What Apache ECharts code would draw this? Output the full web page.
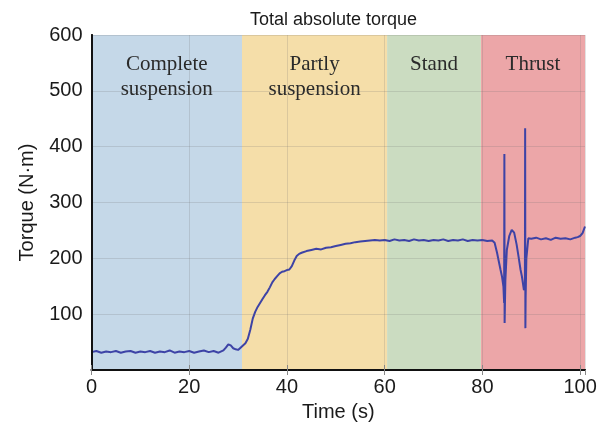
<!DOCTYPE html>
<html>
<head>
<meta charset="utf-8">
<script src="https://cdn.jsdelivr.net/npm/echarts@6/dist/echarts.min.js"></script>
<style>
  html, body { margin: 0; padding: 0; background: #fff; }
  #chart { width: 611px; height: 427px; }
</style>
</head>
<body>
<div id="chart"></div>
<script>
// phases of the test (s)
var phaseNames = ['Complete\nsuspension', 'Partly\nsuspension', 'Stand', 'Thrust']
var phaseStart = [0, 30.8, 60.5, 79.7]
var phaseEnd = [30.8, 60.5, 79.7, 101]
var phaseColors = ['#c5d8e8', '#f5dea9', '#cbdcc1', '#eca6a8']

var xTicks = [0, 20, 40, 60, 80, 100]
var yTicks = [100, 200, 300, 400, 500, 600]

// [time (s), torque (N·m)]
var torque = [
  [0, 32], [1, 34], [2, 31], [3, 33], [4, 32], [5, 34], [6, 31], [7, 33], [8, 34], [9, 31],
  [10, 33], [11, 32], [12, 34], [13, 31], [14, 33], [15, 32], [16, 35], [17, 31], [18, 33], [19, 32],
  [20, 34], [21, 31], [22, 33], [23, 35], [24, 32], [25, 34], [26, 31], [27, 35],
  [27.5, 40], [28, 46], [28.5, 44], [29, 39], [29.5, 37], [30, 36], [30.5, 40], [31, 44], [31.5, 48],
  [32, 56], [32.5, 72], [33, 92], [33.5, 104], [34, 113], [34.5, 120], [35, 127], [35.5, 134],
  [36, 140], [36.5, 148], [37, 157], [37.5, 163], [38, 168], [38.5, 173], [39, 176], [39.5, 177],
  [40, 179], [40.5, 180], [41, 186], [41.5, 196], [42, 204], [42.5, 208], [43, 210], [44, 213],
  [45, 215], [46, 217], [47, 216], [48, 219], [49, 220], [50, 222], [51, 224], [52, 226], [53, 227],
  [54, 229], [55, 230], [56, 231], [57, 232], [58, 233], [59, 232],
  [60, 233], [61, 231], [62, 234], [63, 232], [64, 233], [65, 231], [66, 234], [67, 232], [68, 233],
  [69, 231], [70, 233], [71, 232], [72, 234], [73, 231], [74, 233], [75, 232], [76, 234], [77, 231],
  [78, 233], [79, 232], [80, 233], [81, 231], [82, 232],
  [82.5, 228], [83, 210], [83.3, 197], [83.7, 180], [84, 168], [84.3, 150], [84.45, 120],
  [84.5, 387], [84.55, 84], [84.6, 110], [84.7, 160], [85, 215], [85.5, 240], [86, 251],
  [86.5, 246], [87, 225], [87.4, 203], [87.8, 180], [88.1, 167], [88.5, 143], [88.7, 150],
  [88.75, 433], [88.8, 75], [88.85, 130], [89, 200], [89.4, 236], [89.8, 239],
  [90, 235], [91, 237], [92, 234], [93, 236], [94, 233], [95, 237], [96, 235], [97, 236],
  [98, 234], [99, 237], [99.5, 238], [100, 240], [100.5, 245], [101, 257]
]

var chart = echarts.init(document.getElementById('chart'))

var areas = []
for (var i = 0; i < phaseNames.length; i++) {
  areas.push([
    { name: phaseNames[i], xAxis: phaseStart[i], itemStyle: { color: phaseColors[i], opacity: 1 } },
    { xAxis: phaseEnd[i] }
  ])
}

var axisLine = { show: true, lineStyle: { color: '#111', width: 1.8 } }
var gridLine = { show: true, lineStyle: { color: 'rgba(110,110,110,0.2)', width: 1 } }
var font = 'Liberation Sans, Arial, sans-serif'

var option = {
  animation: false,
  title: {
    text: 'Total absolute torque',
    left: 245,
    top: 6,
    textStyle: { fontFamily: font, fontSize: 18, fontWeight: 'normal', color: '#1a1a1a' }
  },
  grid: { left: 91.5, right: 26, top: 35, bottom: 57 },
  xAxis: [
    {
      type: 'value',
      min: 0,
      max: 101,
      interval: 20,
      name: 'Time (s)',
      nameLocation: 'middle',
      nameGap: 32,
      nameTextStyle: { fontFamily: font, fontSize: 20, color: '#1a1a1a' },
      axisLine: axisLine,
      axisTick: { show: true, inside: true, length: 5, lineStyle: { color: '#888' } },
      axisLabel: {
        fontFamily: font, fontSize: 20, color: '#1a1a1a', margin: 7, showMaxLabel: false,
        formatter: function(v) { return xTicks.indexOf(v) >= 0 ? String(v) : '' }
      },
      splitLine: gridLine,
      z: 10
    },
    {
      type: 'value',
      position: 'top',
      min: 0,
      max: 101,
      interval: 20,
      axisLine: axisLine,
      axisTick: { show: true, inside: true, length: 5, lineStyle: { color: '#888' } },
      axisLabel: { show: false },
      splitLine: { show: false },
      z: 10
    }
  ],
  yAxis: [
    {
      type: 'value',
      min: 0,
      max: 600,
      interval: 100,
      name: 'Torque (N·m)',
      nameLocation: 'middle',
      nameGap: 54,
      nameTextStyle: { fontFamily: font, fontSize: 20, color: '#1a1a1a' },
      axisLine: axisLine,
      axisTick: { show: false },
      axisLabel: {
        fontFamily: font, fontSize: 20, color: '#1a1a1a', margin: 9,
        formatter: function(v) { return yTicks.indexOf(v) >= 0 ? String(v) : '' }
      },
      splitLine: gridLine,
      z: 10
    },
    {
      type: 'value',
      position: 'right',
      min: 0,
      max: 600,
      interval: 100,
      axisLine: axisLine,
      axisTick: { show: false },
      axisLabel: { show: false },
      splitLine: { show: false },
      z: 10
    }
  ],
  series: [
    {
      type: 'line',
      data: torque,
      symbol: 'none',
      lineStyle: { color: '#3d43a6', width: 2 },
      z: 5,
      markArea: {
        silent: true,
        label: {
          show: true,
          position: 'insideTop',
          distance: 17,
          fontFamily: 'Liberation Serif, Times New Roman, serif',
          fontSize: 21,
          lineHeight: 25,
          color: '#2a2a2a'
        },
        data: areas
      }
    }
  ]
}
chart.setOption(option)
window.addEventListener('resize', function() {
  chart.resize()
})
</script>
</body>
</html>
